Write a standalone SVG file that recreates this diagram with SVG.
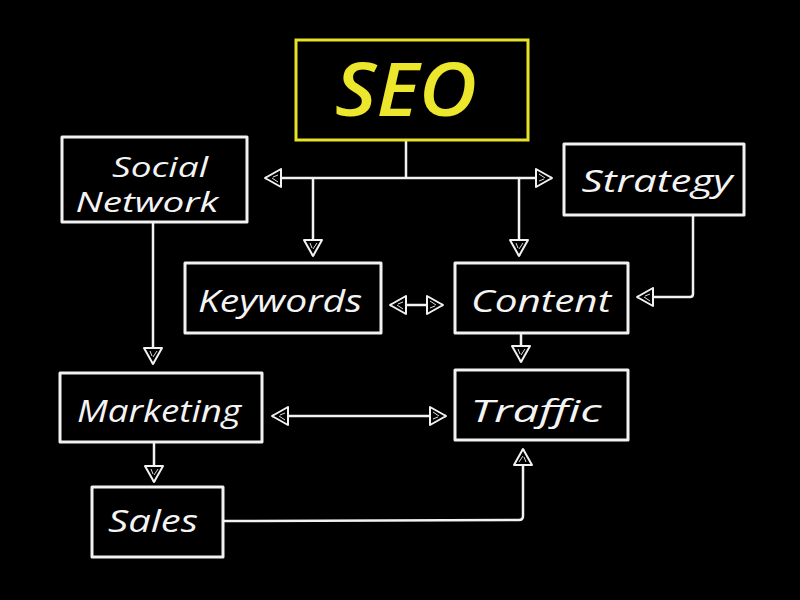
<svg xmlns="http://www.w3.org/2000/svg" width="800" height="600" viewBox="0 0 800 600">
<defs>
<style>
.box{fill:#000;stroke:#f2f2f2;stroke-width:3;stroke-linejoin:round}
.seo{fill:#000;stroke:#e6e22a;stroke-width:3}
.lbl{font-family:"Open Sans","Liberation Sans",sans-serif;font-style:italic;font-size:31px;fill:#f4f4f4;text-anchor:middle}
.sm{font-size:27px}
.seot{font-family:"Open Sans","Liberation Sans",sans-serif;font-style:italic;font-size:74px;fill:#ece62c;text-anchor:middle;font-weight:600}
.con{fill:none;stroke:#f2f2f2;stroke-width:2.5;stroke-linejoin:round}
</style>
<marker id="ah" viewBox="0 0 18 20" refX="17" refY="10" markerWidth="18" markerHeight="20" markerUnits="userSpaceOnUse" orient="auto-start-reverse">
<path d="M1,1 L17,10 L1,19 Z" fill="#000" stroke="#f2f2f2" stroke-width="2" stroke-linejoin="round"/>
<path d="M4,6 L10,10 M4,13 L9,11" stroke="#ddd" stroke-width="1" fill="none"/>
</marker>
</defs>
<rect width="800" height="600" fill="#000"/>
<g id="connectors">
<path class="con" d="M406,140 L406,178"/>
<path class="con" d="M265,178 L552,178" marker-start="url(#ah)" marker-end="url(#ah)"/>
<path class="con" d="M313,178 L313,256" marker-end="url(#ah)"/>
<path class="con" d="M519,178 L519,256" marker-end="url(#ah)"/>
<path class="con" d="M390,305 L443,305" marker-start="url(#ah)" marker-end="url(#ah)"/>
<path class="con" d="M693,215 L693,294 Q693,297 690,297 L637,297" marker-end="url(#ah)"/>
<path class="con" d="M521,333 L521,362" marker-end="url(#ah)"/>
<path class="con" d="M153,222 L153,364" marker-end="url(#ah)"/>
<path class="con" d="M272,416 L446,416" marker-start="url(#ah)" marker-end="url(#ah)"/>
<path class="con" d="M154,442 L154,482" marker-end="url(#ah)"/>
<path class="con" d="M223,521 L519,520 Q523,520 523,516 L523,449" marker-end="url(#ah)"/>
</g>
<g id="seo">
<rect class="seo" x="296" y="40" width="232" height="100"/>
<text class="seot" x="406" y="116" textLength="142" lengthAdjust="spacingAndGlyphs">SEO</text>
</g>
<g id="social-network">
<rect class="box" x="62" y="137" width="185" height="85"/>
<text class="lbl sm" x="160" y="177" textLength="96" lengthAdjust="spacingAndGlyphs">Social</text>
<text class="lbl sm" x="147" y="212" textLength="143" lengthAdjust="spacingAndGlyphs">Network</text>
</g>
<g id="strategy">
<rect class="box" x="564" y="144" width="180" height="71"/>
<text class="lbl" x="657" y="192" textLength="151" lengthAdjust="spacingAndGlyphs">Strategy</text>
</g>
<g id="keywords">
<rect class="box" x="185" y="263" width="196" height="70"/>
<text class="lbl" x="280" y="312" textLength="164" lengthAdjust="spacingAndGlyphs">Keywords</text>
</g>
<g id="content">
<rect class="box" x="455" y="263" width="173" height="70"/>
<text class="lbl" x="541" y="312" textLength="140" lengthAdjust="spacingAndGlyphs">Content</text>
</g>
<g id="marketing">
<rect class="box" x="60" y="373" width="202" height="69"/>
<text class="lbl" x="159" y="422" textLength="164" lengthAdjust="spacingAndGlyphs">Marketing</text>
</g>
<g id="traffic">
<rect class="box" x="455" y="370" width="173" height="70"/>
<text class="lbl" x="536" y="422" textLength="131" lengthAdjust="spacingAndGlyphs">Traffic</text>
</g>
<g id="sales">
<rect class="box" x="92" y="487" width="131" height="70"/>
<text class="lbl" x="153" y="532" textLength="90" lengthAdjust="spacingAndGlyphs">Sales</text>
</g>
</svg>
